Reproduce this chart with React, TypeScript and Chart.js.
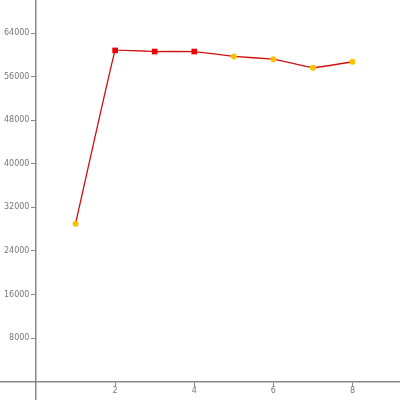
import React, { useEffect, useRef } from "react";
import { Chart, registerables } from "chart.js";

Chart.register(...registerables);

const xValues = [1, 2, 3, 4, 5, 6, 7, 8];
const yValues = [29000, 60800, 60600, 60600, 59700, 59200, 57600, 58700];
const highlighted = [false, true, true, true, false, false, false, false];
const xTickValues = [2, 4, 6, 8];
const yTickValues = [8000, 16000, 24000, 32000, 40000, 48000, 56000, 64000];

export default function App() {
  const ref = useRef<HTMLCanvasElement | null>(null);
  useEffect(() => {
    if (!ref.current) return;
    const chart = new Chart(ref.current, {
      type: "line",
      data: {
        datasets: [
          {
            data: xValues.map((x, i) => ({ x, y: yValues[i] })),
            borderColor: "#cc1010",
            borderWidth: 1.3,
            tension: 0.03,
            pointStyle: highlighted.map((h) => (h ? "rect" : "circle")),
            pointRadius: highlighted.map((h) => (h ? 4 : 3)),
            pointBackgroundColor: highlighted.map((h) => (h ? "#ee0000" : "#ffc000")),
            pointBorderColor: highlighted.map((h) => (h ? "#ee0000" : "#ffc000")),
            pointBorderWidth: 0,
          },
        ],
      },
      options: {
        animation: false,
        responsive: false,
        maintainAspectRatio: false,
        layout: { padding: 0, autoPadding: false },
        plugins: { legend: { display: false }, tooltip: { enabled: false } },
        scales: {
          x: {
            type: "linear",
            min: -0.91,
            max: 9.2,
            position: { y: 0 } as any,
            afterBuildTicks: (s: any) => {
              s.ticks = xTickValues.map((v) => ({ value: v }));
            },
            grid: { drawOnChartArea: false, drawTicks: true, tickLength: 4, color: "#888", lineWidth: 1 },
            border: { display: true, color: "#888", width: 1.5 },
            ticks: {
              color: "#777",
              font: { size: 8, family: "DejaVu Sans" },
              padding: 1,
              maxRotation: 0,
              callback: (v: any) => String(v),
            },
          },
          y: {
            type: "linear",
            min: -3380,
            max: 70060,
            position: { x: 0 } as any,
            afterBuildTicks: (s: any) => {
              s.ticks = yTickValues.map((v) => ({ value: v }));
            },
            afterFit: (s: any) => {
              s.paddingTop = 0;
              s.paddingBottom = 0;
              if (s._margins) {
                s._margins.top = 0;
                s._margins.bottom = 0;
              }
              s.top = 0;
              s.bottom = 400;
              s.height = 400;
              s._length = 400;
              s._startPixel = 0;
              s._endPixel = 400;
            },
            grid: { drawOnChartArea: false, drawTicks: true, tickLength: 4, color: "#888", lineWidth: 1 },
            border: { display: true, color: "#888", width: 1.5 },
            ticks: {
              color: "#777",
              font: { size: 8, family: "DejaVu Sans" },
              padding: 5,
              callback: (v: any) => String(v) + "\u2002 ",
            },
          },
        },
      },
    });
    return () => chart.destroy();
  }, []);
  return (
    <div style={{ position: "absolute", left: 0, top: 0, width: 400, height: 400, background: "#fff" }}>
      <canvas ref={ref} width={400} height={400} style={{ width: 400, height: 400, display: "block" }} />
    </div>
  );
}
